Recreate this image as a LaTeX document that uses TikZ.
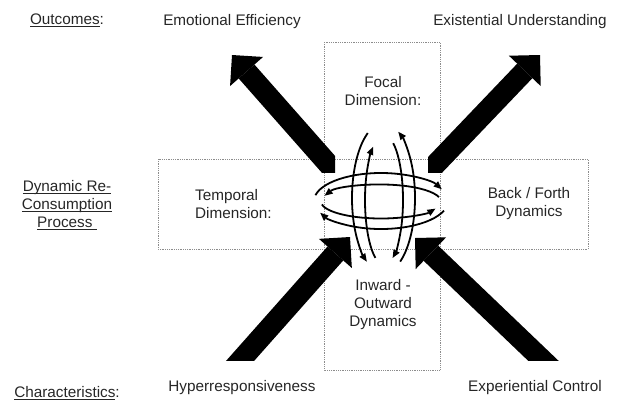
\documentclass[tikz,border=0pt]{standalone}
\usepackage{fontspec}
\setmainfont{Liberation Sans}
\usetikzlibrary{arrows.meta,calc}
\newsavebox\ulbox
\newcommand\myul[1]{\sbox\ulbox{#1}\usebox\ulbox\llap{\rule[-2.6pt]{\wd\ulbox}{0.9pt}}}
\begin{document}
\begin{tikzpicture}[x=1pt,y=-1pt,
  every node/.style={font=\fontsize{15.3}{18}\selectfont, text=black!85, inner sep=0pt},
  boxline/.style={black!45, densely dotted, line width=0.8pt},
  bigarrow/.style={line width=21pt, -{Triangle[width=44pt,length=22pt,line width=0pt]}},
  ring/.style={line width=1.8pt},
  rtip/.style={-{Triangle[width=7pt,length=8pt,line width=0pt]}},
  ltip/.style={{Triangle[width=7pt,length=8pt,line width=0pt]}-}]
\useasboundingbox (0,0) rectangle (618,402);
% boxes
\draw[boxline] (324,42) rectangle (440,370);
\draw[boxline] (158,159) rectangle (588,249);
% labels
\node (outc) at (67,20) {\myul{Outcomes}:};
\node[align=center] (dyn) at (67,205) {\myul{Dynamic Re-}\\\myul{Consumption}\\\myul{Process\ }};
\node (char) at (67,393) {\myul{Characteristics}:};
\node (emo) at (232,22) {Emotional Efficiency};
\node (exi) at (520,22) {Existential Understanding};
\node (hyp) at (242,388) {Hyperresponsiveness};
\node (expc) at (535,388) {Experiential Control};
\node[align=center] (foc) at (383,91) {Focal\\Dimension:};
\node[align=left, anchor=west] (tem) at (195,204) {Temporal\\Dimension:};
\node[align=center] (bac) at (529,204) {Back / Forth\\Dynamics};
\node[align=center] (inw) at (383,305) {Inward -\\Outward\\Dynamics};
% big arrows
\coordinate (ulA) at (232,55);  \coordinate (ulT) at (352,191);
\coordinate (urA) at (540,55);  \coordinate (urT) at (412,189);
\coordinate (llA) at (350,237); \coordinate (llT) at (232,370);
\coordinate (lrA) at (415,238); \coordinate (lrT) at (553,370);
\begin{scope}\clip (0,0) rectangle (335,172); \draw[bigarrow] (ulT) -- (ulA); \end{scope}
\begin{scope}\clip (428,0) rectangle (618,172); \draw[bigarrow] (urT) -- (urA); \end{scope}
\begin{scope}\clip (0,0) rectangle (381,360); \draw[bigarrow] (llT) -- (llA); \end{scope}
\begin{scope}\clip (381,0) rectangle (618,360); \draw[bigarrow] (lrT) -- (lrA); \end{scope}
% rings
\coordinate (hc) at (381,201);
\coordinate (hi) at (381,201.5);
\coordinate (vo) at (383.5,198);
\coordinate (vi) at (384,200);
\draw[ring,rtip] ($(hc)+(192:67 and 28)$) arc[start angle=192,end angle=335,x radius=67,y radius=28];
\draw[ring,rtip] ($(hc)+(20:67 and 28)$) arc[start angle=20,end angle=155,x radius=67,y radius=28];
\draw[ring,ltip] ($(hi)+(200:60 and 17)$) arc[start angle=200,end angle=345,x radius=60,y radius=17];
\draw[ring,rtip] ($(hi)+(170:60 and 17)$) arc[start angle=170,end angle=25,x radius=60,y radius=17];
\draw[ring,rtip] ($(vo)+(240:31.5 and 75)$) arc[start angle=240,end angle=122,x radius=31.5,y radius=75];
\draw[ring,rtip] ($(vo)+(58:31.5 and 75)$) arc[start angle=58,end angle=-62,x radius=31.5,y radius=75];
\draw[ring,rtip] ($(vi)+(117:19 and 65)$) arc[start angle=117,end angle=235,x radius=19,y radius=65];
\draw[ring,rtip] ($(vi)+(-61:19 and 65)$) arc[start angle=-61,end angle=63,x radius=19,y radius=65];
\end{tikzpicture}
\end{document}
